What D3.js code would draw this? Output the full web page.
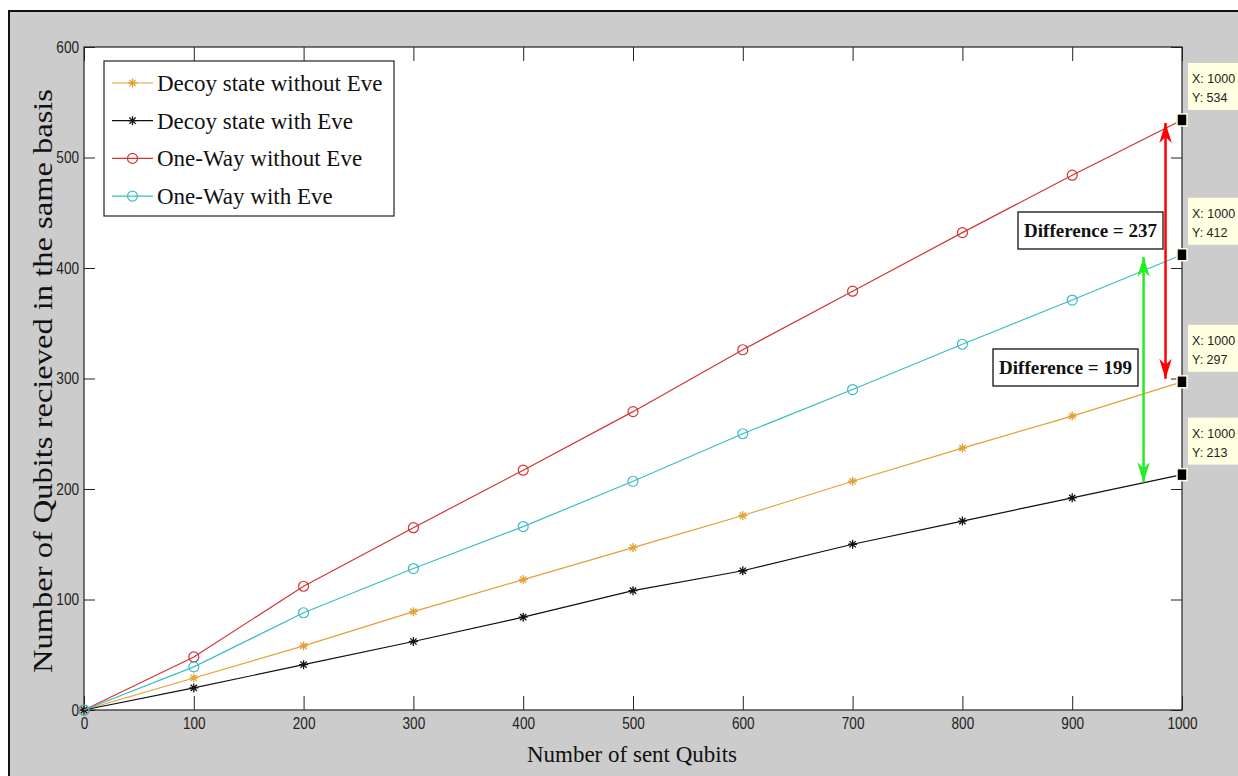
<!DOCTYPE html>
<html><head><meta charset="utf-8">
<script src="https://cdn.jsdelivr.net/npm/d3@7"></script>
<style>html,body{margin:0;padding:0;background:#fff;}svg{display:block;}</style>
</head><body>
<svg id="chart" width="1238" height="776"></svg>
<script>
const sentQubits = [0,100,200,300,400,500,600,700,800,900,1000];
const decoyWithoutEve = [0,29,58,89,118,147,176,207,237,266,297];
const decoyWithEve    = [0,20,41,62,84,108,126,150,171,192,213];
const oneWayWithoutEve= [0,48,112,165,217,270,326,379,432,484,534];
const oneWayWithEve   = [0,39,88,128,166,207,250,290,331,371,412];
const seriesNames = ["Decoy state without Eve","Decoy state with Eve","One-Way without Eve","One-Way with Eve"];
const xTicks = [0,100,200,300,400,500,600,700,800,900,1000];
const yTicks = [0,100,200,300,400,500,600];
const dataTipValues = [534,412,297,213];
const diffLabels = ["Difference = 237","Difference = 199"];

const svg = d3.select("#chart");
const W=1238,H=776;
const L=84,R=1182,T=47,B=710;
const x = d3.scaleLinear().domain([0,1000]).range([L,R]);
const y = d3.scaleLinear().domain([0,600]).range([B,T]);

// figure background
svg.append("rect").attr("x",0).attr("y",0).attr("width",W).attr("height",H).attr("fill","#fff");
svg.append("rect").attr("x",9).attr("y",11).attr("width",W-9).attr("height",H-11).attr("fill","#cccccc");
svg.append("path").attr("d",`M9,${H} L9,11 L${W},11`).attr("fill","none").attr("stroke","#111").attr("stroke-width",2);

// plot area
svg.append("rect").attr("x",L).attr("y",T).attr("width",R-L).attr("height",B-T).attr("fill","#fff");

const tickFont = "'Liberation Sans',Arial,sans-serif";
const sx = 0.8;
const gx = svg.append("g").attr("transform",`translate(0,${B})`)
  .call(d3.axisBottom(x).tickValues(xTicks).tickSize(-14).tickPadding(7).tickFormat(d3.format("d")));
const gy = svg.append("g").attr("transform",`translate(${L},0)`)
  .call(d3.axisLeft(y).tickValues(yTicks).tickSize(-11).tickPadding(4).tickFormat(d3.format("d")));
const gxt = svg.append("g").attr("transform",`translate(0,${T})`)
  .call(d3.axisTop(x).tickValues(xTicks).tickSize(-14).tickFormat(""));
const gyr = svg.append("g").attr("transform",`translate(${R},0)`)
  .call(d3.axisRight(y).tickValues(yTicks).tickSize(-11).tickFormat(""));
[gx,gy,gxt,gyr].forEach(g=>{
  g.select(".domain").remove();
  g.selectAll(".tick line").attr("stroke","#222").attr("stroke-width",1);
  g.selectAll(".tick text").attr("fill","#222").attr("font-family",tickFont).attr("font-size",17);
});
gx.selectAll(".tick text").attr("transform",`scale(${sx},1)`);
gy.selectAll(".tick text").attr("x",-5/sx).attr("transform",`scale(${sx},1)`);
svg.append("rect").attr("x",L).attr("y",T).attr("width",R-L).attr("height",B-T)
  .attr("fill","none").attr("stroke","#222").attr("stroke-width",1.2);

// series
const series = [
  {name:seriesNames[0], vals:decoyWithoutEve, color:"#E3A034", marker:"star"},
  {name:seriesNames[1], vals:decoyWithEve, color:"#111111", marker:"star"},
  {name:seriesNames[2], vals:oneWayWithoutEve, color:"#D23434", marker:"circle"},
  {name:seriesNames[3], vals:oneWayWithEve, color:"#3CBCC6", marker:"circle"}
];
const line = d3.line().x((d,i)=>x(sentQubits[i])).y(d=>y(d));
function starPath(cx,cy,s){
  const a=s*0.7;
  return `M${cx-s},${cy}L${cx+s},${cy}M${cx},${cy-s}L${cx},${cy+s}M${cx-a},${cy-a}L${cx+a},${cy+a}M${cx-a},${cy+a}L${cx+a},${cy-a}`;
}
function drawMarker(g,type,cx,cy,color){
  if(type==="circle"){
    g.append("circle").attr("cx",cx).attr("cy",cy).attr("r",5).attr("fill","none").attr("stroke",color).attr("stroke-width",1.2);
  } else {
    g.append("path").attr("d",starPath(cx,cy,4.5)).attr("fill","none").attr("stroke",color).attr("stroke-width",1.3);
  }
}
series.forEach(s=>{
  svg.append("path").datum(s.vals).attr("d",line).attr("fill","none").attr("stroke",s.color).attr("stroke-width",1.2);
  const g=svg.append("g");
  s.vals.forEach((v,i)=>drawMarker(g,s.marker,x(sentQubits[i]),y(v),s.color));
});

// legend
const lg = svg.append("g");
lg.append("rect").attr("x",104).attr("y",61).attr("width",290).attr("height",155)
  .attr("fill","#fff").attr("stroke","#222").attr("stroke-width",1.2);
series.forEach((s,i)=>{
  const cy = 83 + i*37.7;
  lg.append("line").attr("x1",112).attr("x2",153).attr("y1",cy).attr("y2",cy).attr("stroke",s.color).attr("stroke-width",1.2);
  drawMarker(lg,s.marker,132.5,cy,s.color);
  lg.append("text").attr("x",157).attr("y",cy+8).text(s.name)
    .attr("font-family","'Liberation Serif','Times New Roman',serif").attr("font-size",23).attr("fill","#111");
});

// axis labels
svg.append("text").attr("x",632).attr("y",762).attr("text-anchor","middle")
  .attr("font-family","'Liberation Serif','Times New Roman',serif").attr("font-size",23).attr("fill","#111")
  .text("Number of sent Qubits");
svg.append("text").attr("transform","translate(52,381) rotate(-90)").attr("text-anchor","middle")
  .attr("font-family","'Liberation Serif','Times New Roman',serif").attr("font-size",28).attr("fill","#111")
  .attr("textLength",584).attr("lengthAdjust","spacingAndGlyphs")
  .text("Number of Qubits recieved in the same basis");

// difference arrows
const defs = svg.append("defs");
function arrowMarker(id,color){
  defs.append("marker").attr("id",id).attr("viewBox","0 0 10 10").attr("refX",10).attr("refY",5)
    .attr("markerWidth",8).attr("markerHeight",5).attr("markerUnits","strokeWidth").attr("orient","auto-start-reverse")
    .attr("preserveAspectRatio","none")
    .append("path").attr("d","M0,0 L10,5 L0,10 L3,5 Z").attr("fill",color);
}
arrowMarker("arrRed","#ff0000");
arrowMarker("arrGreen","#22ee22");
svg.append("line").attr("x1",x(985)).attr("x2",x(985)).attr("y1",y(534)+3).attr("y2",y(297)-3)
  .attr("stroke","#ff0000").attr("stroke-width",2.5).attr("marker-start","url(#arrRed)").attr("marker-end","url(#arrRed)");
svg.append("line").attr("x1",x(965)).attr("x2",x(965)).attr("y1",y(412)+2).attr("y2",y(206))
  .attr("stroke","#22ee22").attr("stroke-width",2.5).attr("marker-start","url(#arrGreen)").attr("marker-end","url(#arrGreen)");

// difference labels
function diffBox(bx,by,bw,bh,txt){
  svg.append("rect").attr("x",bx).attr("y",by).attr("width",bw).attr("height",bh)
    .attr("fill","#fff").attr("stroke","#111").attr("stroke-width",1.3);
  svg.append("text").attr("x",bx+bw/2).attr("y",by+bh/2+6).attr("text-anchor","middle")
    .attr("font-family","'Liberation Serif','Times New Roman',serif").attr("font-weight","bold").attr("font-size",19).attr("fill","#111")
    .text(txt);
}
diffBox(1018,212,145,37,diffLabels[0]);
diffBox(993,349,145,37,diffLabels[1]);

// data tips
dataTipValues.forEach(v=>{
  const px=x(1000), py=y(v);
  svg.append("rect").attr("x",px+6).attr("y",py-57).attr("width",52).attr("height",47).attr("fill","#ffffe1");
  svg.append("text").attr("x",px+10).attr("y",py-37).text("X: 1000")
    .attr("font-family","'Liberation Sans',Arial,sans-serif").attr("font-size",12.5).attr("fill","#222");
  svg.append("text").attr("x",px+10).attr("y",py-18).text("Y: "+v)
    .attr("font-family","'Liberation Sans',Arial,sans-serif").attr("font-size",12.5).attr("fill","#222");
  svg.append("rect").attr("x",px-5).attr("y",py-6).attr("width",10).attr("height",12)
    .attr("fill","#000").attr("stroke","#ffffe1").attr("stroke-width",1.5);
});
</script>
</body></html>
